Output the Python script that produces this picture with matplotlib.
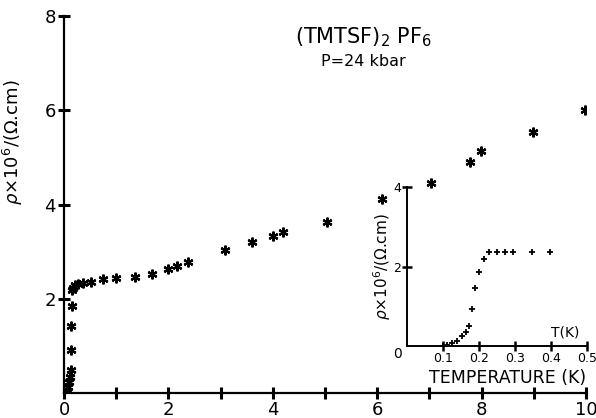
import numpy as np
import matplotlib.pyplot as plt

# main curve: resistivity vs temperature (asterisks)
temp_main = [0.05, 0.07, 0.09, 0.11, 0.13, 0.14, 0.14, 0.15, 0.16, 0.17,
             0.21, 0.26, 0.36, 0.51, 0.75, 0.99, 1.36, 1.68, 1.99, 2.17,
             2.37, 3.08, 3.60, 4.00, 4.20, 5.03, 6.10, 7.04, 7.78, 7.99,
             8.99, 9.98]
rho_main = [0.03, 0.13, 0.24, 0.35, 0.49, 0.91, 1.43, 1.84, 2.19, 2.22,
            2.29, 2.31, 2.33, 2.36, 2.41, 2.45, 2.47, 2.53, 2.63, 2.70,
            2.77, 3.04, 3.20, 3.33, 3.42, 3.62, 4.11, 4.45, 4.90, 5.14,
            5.53, 6.01]

# inset: low temperature transition (plus signs)
temp_inset = [0.100, 0.110, 0.124, 0.140, 0.154, 0.164, 0.172, 0.181, 0.189,
              0.200, 0.215, 0.229, 0.249, 0.272, 0.295, 0.348, 0.397]
rho_inset = [0.0, 0.03, 0.07, 0.13, 0.24, 0.34, 0.51, 0.94, 1.46,
             1.86, 2.19, 2.36, 2.36, 2.36, 2.36, 2.36, 2.36]

main_xticks = [0, 2, 4, 6, 8, 10]
main_yticks = [2, 4, 6, 8]
inset_xticks = [0.1, 0.2, 0.3, 0.4, 0.5]
inset_xlabels = ['0.1', '0.2', '0.3', '0.4', '0.5']
inset_yticks = [2, 4]

plt.rcParams['font.family'] = ['DejaVu Sans']
ylab = r'$\rho$' + '\u00d710$^6$/(\u03a9.cm)'

fig = plt.figure(figsize=(5.96, 4.18), dpi=100)
ax = fig.add_axes([64/596, 1-393/418, 522/596, 377/418])
ax.plot(temp_main, rho_main, ls='none', marker=(6, 2, 0), ms=7, mew=1.6,
        color='black')
ax.set_xlim(0, 10)
ax.set_ylim(0, 8)
for s in ['top', 'right']:
    ax.spines[s].set_visible(False)
for s in ['left', 'bottom']:
    ax.spines[s].set_linewidth(1.6)
ax.set_xticks(main_xticks)
ax.set_xticks([1, 3, 5, 7, 9], minor=True)
ax.set_yticks(main_yticks)
ax.tick_params(which='both', direction='inout', length=8, width=2.2,
               labelsize=13, pad=2)
ax.set_ylabel(ylab, fontsize=13)
ax.yaxis.set_label_coords(-0.075, 0.666)
ax.text(5.73, 7.56, '(TMTSF)$_2$ PF$_6$', fontsize=15, ha='center',
        va='center')
ax.text(5.73, 7.03, 'P=24 kbar', fontsize=11.5, ha='center', va='center')

# inset
ins = fig.add_axes([407/596, 1-346/418, 180/596, 159/418])
ins.patch.set_alpha(0)
ins.plot(temp_inset, rho_inset, ls='none', marker='+', ms=5, mew=1.3,
         color='black')
ins.set_xlim(0, 0.5)
ins.set_ylim(0, 4)
for s in ['top', 'right']:
    ins.spines[s].set_visible(False)
for s in ['left', 'bottom']:
    ins.spines[s].set_linewidth(1.4)
ins.set_xticks(inset_xticks)
ins.set_xticklabels(inset_xlabels)
ins.set_yticks(inset_yticks)
ins.tick_params(which='both', direction='inout', length=7, width=1.8,
                labelsize=9, pad=1)
ins.set_ylabel(ylab, fontsize=11)
ins.yaxis.set_label_coords(-0.08, 0.5)
ins.text(-0.025, -0.03, '0', fontsize=10, ha='center', va='top')
ins.text(0.44, 0.33, 'T(K)', fontsize=10, ha='center', va='center')
ins.set_xlabel('TEMPERATURE (K)', fontsize=12.5, labelpad=2)
ins.xaxis.set_label_coords(0.556, -0.145)

fig.savefig('out.png', dpi=100)
